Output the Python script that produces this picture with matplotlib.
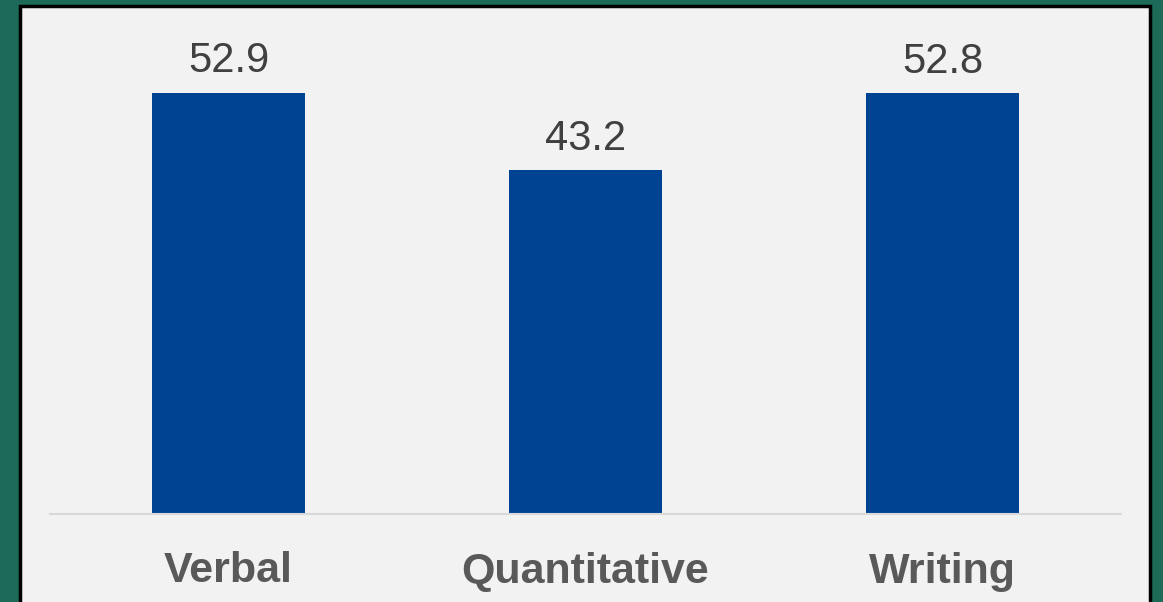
import matplotlib.pyplot as plt
from matplotlib.patches import Rectangle

categorias = ['Verbal', 'Quantitative', 'Writing']
valores = [52.9, 43.2, 52.8]

plt.rcParams['font.family'] = ['Liberation Sans', 'DejaVu Sans']

fig = plt.figure(figsize=(11.63, 6.02), dpi=100)
fig.patch.set_facecolor('#1c6a57')

# panel claro con borde negro (sigue por debajo del borde inferior)
W, H = 1163, 602
panel = Rectangle((20 / W, -20 / H), 1130 / W, 616 / H, transform=fig.transFigure,
                  facecolor='#f2f2f2', edgecolor='black', linewidth=2.5, zorder=-10)
fig.patches.append(panel)

ax = fig.add_axes([50 / W, (602 - 514) / H, 1071 / W, (514 - 36) / H])
ax.set_zorder(5)
ax.set_facecolor('none')

barras = ax.bar(range(len(categorias)), valores, width=0.43, color='#004393')
ax.bar_label(barras, labels=[f'{v:.1f}' for v in valores], padding=8,
             fontsize=30, color='#404040')

ax.set_xlim(-0.5, 2.5)
ax.set_ylim(0, 60)
ax.set_xticks(range(len(categorias)))
ax.set_xticklabels(categorias, fontsize=31, fontweight='bold', color='#595959')
ax.tick_params(axis='x', length=0, pad=27)
ax.set_yticks([])
for lado in ['top', 'left', 'right']:
    ax.spines[lado].set_visible(False)
ax.spines['bottom'].set_color('#d9d9d9')
ax.spines['bottom'].set_linewidth(1.5)

fig.savefig('out.png', dpi=100, facecolor=fig.get_facecolor())
